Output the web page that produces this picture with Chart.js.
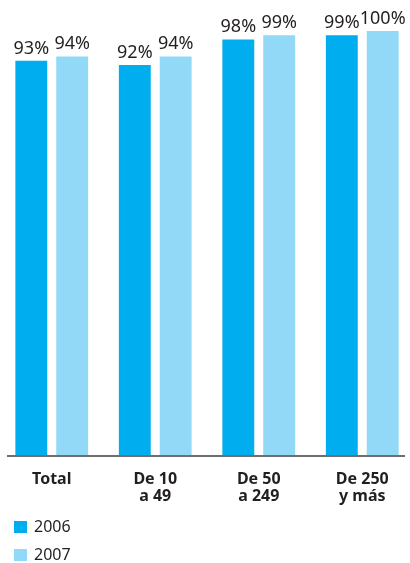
<!DOCTYPE html>
<html>
<head>
<meta charset="utf-8">
<script src="https://cdn.jsdelivr.net/npm/chart.js@4/dist/chart.umd.min.js"></script>
<style>
  html, body { margin: 0; padding: 0; background: #fff; overflow: hidden; }
  #wrap { width: 410px; height: 563px; overflow: hidden; }
</style>
</head>
<body>
<div id="wrap"><canvas id="chartContainer" width="414" height="563"></canvas></div>
<script>
// 1: data
let categories = ['Total', ['De 10', 'a 49'], ['De 50', 'a 249'], ['De 250', 'y más']];
let years = ['2006', '2007'];
let values2006 = [93, 92, 98, 99];
let values2007 = [94, 94, 99, 100];

let textColor = '#231f20';

// labels with % on top of each bar
let valueLabels = {
  id: 'valueLabels',
  afterDatasetsDraw(chart) {
    let ctx = chart.ctx;
    ctx.save();
    ctx.font = '18px "Noto Sans"';
    ctx.fillStyle = textColor;
    ctx.textAlign = 'center';
    ctx.textBaseline = 'alphabetic';
    chart.data.datasets.forEach((ds, i) => {
      chart.getDatasetMeta(i).data.forEach((bar, j) => {
        ctx.fillText(ds.data[j] + '%', bar.x, bar.y - 7);
      });
    });
    ctx.restore();
  }
};

// baseline under the bars
let baseLine = {
  id: 'baseLine',
  afterDatasetsDraw(chart) {
    let ctx = chart.ctx;
    let area = chart.chartArea;
    ctx.save();
    ctx.strokeStyle = '#6d6e70';
    ctx.lineWidth = 2;
    ctx.beginPath();
    ctx.moveTo(7, area.bottom + 1);
    ctx.lineTo(405, area.bottom + 1);
    ctx.stroke();
    ctx.restore();
  }
};

// legend stacked in a column under the chart
let columnLegend = {
  id: 'columnLegend',
  afterDraw(chart) {
    let ctx = chart.ctx;
    ctx.save();
    ctx.font = '16px "Noto Sans"';
    ctx.textBaseline = 'middle';
    chart.data.datasets.forEach((ds, i) => {
      let y = 521 + i * 28;
      ctx.fillStyle = ds.backgroundColor;
      ctx.fillRect(14, y, 13, 12);
      ctx.fillStyle = textColor;
      ctx.fillText(ds.label, 34, y + 6);
    });
    ctx.restore();
  }
};

function appendChart() {
  let chartContainer = document.getElementById('chartContainer');
  new Chart(chartContainer, {
    type: 'bar',
    data: {
      labels: categories,
      datasets: [
        {
          label: years[0],
          data: values2006,
          backgroundColor: '#00adee',
          categoryPercentage: 0.79,
          barPercentage: 0.78
        },
        {
          label: years[1],
          data: values2007,
          backgroundColor: '#91d9f7',
          categoryPercentage: 0.79,
          barPercentage: 0.78
        }
      ]
    },
    options: {
      responsive: false,
      animation: false,
      layout: { padding: { top: 31, left: 0, right: 0, bottom: 0 } },
      plugins: {
        legend: { display: false },
        tooltip: { enabled: false }
      },
      scales: {
        x: {
          grid: { display: false, drawTicks: false },
          border: { display: false },
          ticks: {
            color: textColor,
            padding: 16,
            font: { family: '"Noto Sans"', size: 16, weight: 'bold', lineHeight: 1.08 }
          },
          afterFit: (scale) => { scale.height = 108; }
        },
        y: {
          display: false,
          min: 0,
          max: 100
        }
      }
    },
    plugins: [valueLabels, baseLine, columnLegend]
  });
}

appendChart();
</script>
</body>
</html>
